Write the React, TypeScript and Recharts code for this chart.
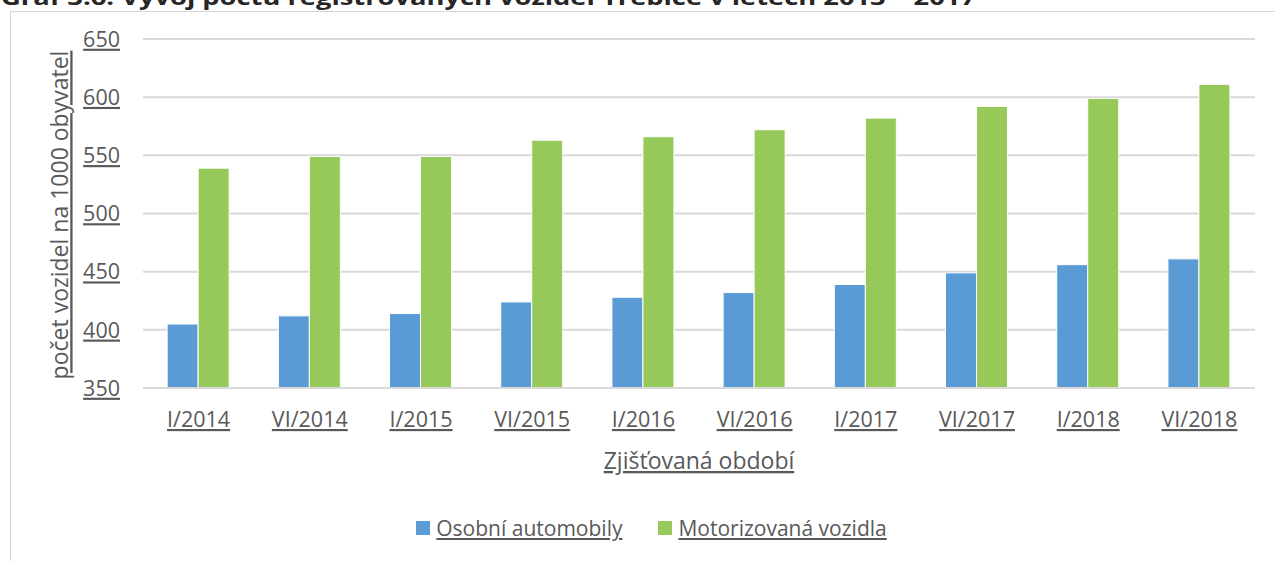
import { BarChart, Bar, XAxis, YAxis, CartesianGrid, Legend, Label } from "recharts";

// Zjišťovaná období
const categories = ["I/2014", "VI/2014", "I/2015", "VI/2015", "I/2016", "VI/2016", "I/2017", "VI/2017", "I/2018", "VI/2018"];
// počet vozidel na 1000 obyvatel
const osobniAutomobily = [405, 412, 414, 424, 428, 432, 439, 449, 456, 461];
const motorizovanaVozidla = [539, 549, 549, 563, 566, 572, 582, 592, 599, 611];
const yTicks = [350, 400, 450, 500, 550, 600, 650];

const seriesNames = ["Osobní automobily", "Motorizovaná vozidla"];
const COLORS = ["#5b9bd5", "#96c85a"];

const data = categories.map((name, i) => ({
  name,
  osobni: osobniAutomobily[i],
  motor: motorizovanaVozidla[i],
}));

const FONT = "'Open Sans', sans-serif";
const TEXT = "#595959";

const YTick = (props: any) => {
  const { x, y, payload } = props;
  return (
    <text x={x} y={y} dy="0.36em" textAnchor="end" fontFamily={FONT} fontSize={21.5} fill={TEXT} textDecoration="underline">
      {payload.value}
    </text>
  );
};

const XTick = (props: any) => {
  const { x, y, payload } = props;
  return (
    <text x={x} y={y} dy={31} textAnchor="middle" fontFamily={FONT} fontSize={21.5} fill={TEXT} textDecoration="underline">
      {payload.value}
    </text>
  );
};

const LegendContent = () => (
  <div style={{ display: "flex", justifyContent: "center", gap: 36, fontFamily: FONT, fontSize: 21, color: TEXT }}>
    {seriesNames.map((n, i) => (
      <div key={n} style={{ display: "flex", alignItems: "center", gap: 6 }}>
        <span style={{ width: 14, height: 14, background: COLORS[i], display: "inline-block" }} />
        <span style={{ textDecoration: "underline" }}>{n}</span>
      </div>
    ))}
  </div>
);

export default function App() {
  return (
    <div style={{ position: "absolute", left: 0, top: 0, width: 1275, height: 561, overflow: "hidden", background: "#fff" }}>
      {/* title of the page above, cut off by the crop */}
      <svg width={1275} height={12} style={{ position: "absolute", left: 0, top: 0 }}>
        <text x={1} y={5} fontFamily={FONT} fontWeight="bold" fontSize={22} fill="#262626" textLength={975} lengthAdjust="spacingAndGlyphs">
          Graf 3.6: Vývoj počtu registrovaných vozidel Třebíče v letech 2013 – 2017
        </text>
      </svg>
      <div style={{ position: "absolute", left: 10, top: 11, width: 1300, height: 600, border: "1px solid #d6d6d6", boxSizing: "border-box" }} />
      <div style={{ position: "absolute", left: 0, top: 0 }}>
        <BarChart
          width={1275}
          height={561}
          data={data}
          margin={{ top: 39, right: 20, bottom: 113, left: 0 }}
          barCategoryGap="21.7%"
          barGap={0}
        >
          <CartesianGrid vertical={false} stroke="#d9d9d9" strokeWidth={2} />
          <XAxis
            dataKey="name"
            height={60}
            axisLine={{ stroke: "#d9d9d9", strokeWidth: 2 }}
            tickLine={false}
            tick={<XTick />}
            interval={0}
          >
            <Label
              content={() => (
                <text x={699} y={469} textAnchor="middle" fontFamily={FONT} fontSize={23} fill={TEXT} textDecoration="underline">
                  Zjišťovaná období
                </text>
              )}
            />
          </XAxis>
          <YAxis
            width={143}
            domain={[350, 650]}
            ticks={yTicks}
            allowDataOverflow
            axisLine={false}
            tickLine={false}
            tickMargin={17}
            tick={<YTick />}
          >
            <Label
              content={() => (
                <text
                  x={60}
                  y={215}
                  transform="rotate(-90, 60, 215)"
                  dy="0.36em"
                  textAnchor="middle"
                  fontFamily={FONT}
                  fontSize={23}
                  fill={TEXT}
                  textDecoration="underline"
                >
                  počet vozidel na 1000 obyvatel
                </text>
              )}
            />
          </YAxis>
          <Legend
            layout="vertical"
            align="center"
            verticalAlign="middle"
            content={<LegendContent />}
            wrapperStyle={{ position: "absolute", left: 14, top: 514, width: 1275 }}
          />
          <Bar dataKey="osobni" name={seriesNames[0]} fill={COLORS[0]} stroke="#ffffff" strokeWidth={1} isAnimationActive={false} />
          <Bar dataKey="motor" name={seriesNames[1]} fill={COLORS[1]} stroke="#ffffff" strokeWidth={1} isAnimationActive={false} />
        </BarChart>
      </div>
    </div>
  );
}
